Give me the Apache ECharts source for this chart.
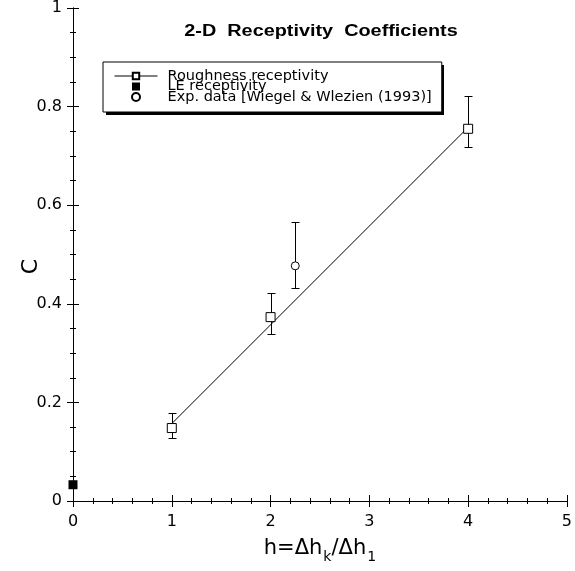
<!DOCTYPE html>
<html>
<head>
<meta charset="utf-8">
<script src="https://cdn.jsdelivr.net/npm/echarts@6/dist/echarts.min.js"></script>
<style>
  html, body { margin: 0; padding: 0; background: #fff; }
  #chart { width: 575px; height: 571px; }
</style>
</head>
<body>
<div id="chart"></div>
<script>
// Roughness receptivity coefficients with measurement uncertainty
const roughH = [1, 2, 4];
const roughC = [0.148, 0.373, 0.755];
const roughLow = [0.127, 0.339, 0.719];
const roughHigh = [0.178, 0.422, 0.822];

// Straight-line fit through the roughness points
const fitH = [1, 4];
const fitC = [0.157, 0.758];

// Leading-edge receptivity
const leH = [0];
const leC = [0.033];

// Experimental data point (Wiegel & Wlezien, 1993)
const expH = [2.25];
const expC = [0.477];
const expLow = [0.432];
const expHigh = [0.565];

const FONT = 'DejaVu Sans';
const TITLE_FONT = 'Liberation Sans';

const pairs = (xs, ys) => xs.map((x, i) => [x, ys[i]]);
const errData = roughH.map((x, i) => [x, roughLow[i], roughHigh[i]])
  .concat(expH.map((x, i) => [x, expLow[i], expHigh[i]]));

const chart = echarts.init(document.getElementById('chart'), null, { renderer: 'canvas' });

const axisLine = { show: true, lineStyle: { color: '#000', width: 1 } };
const axisTick = { show: true, inside: true, length: 6, lineStyle: { color: '#000' } };
const minorX = { show: true, splitNumber: 5, length: 3, lineStyle: { color: '#000' } };
const minorY = { show: true, splitNumber: 4, length: 3, lineStyle: { color: '#000' } };

// legend frame geometry (box plus offset drop shadow)
const LEG = { left: 103, top: 62, width: 338, height: 50, shadow: 3 };

const option = {
  backgroundColor: '#fff',
  animation: false,
  grid: { left: 73, right: 4, top: 6, bottom: 70 },
  graphic: [
    {
      type: 'text',
      x: 321, y: 32,
      scaleX: 1.24,
      style: {
        text: '2-D  Receptivity  Coefficients',
        font: 'bold 16px "' + TITLE_FONT + '"',
        fill: '#000',
        textAlign: 'center',
        textVerticalAlign: 'middle'
      },
      z: 10
    },
    {
      type: 'rect',
      shape: {
        x: LEG.left + LEG.shadow, y: LEG.top + LEG.shadow,
        width: LEG.width, height: LEG.height
      },
      style: { fill: '#000' },
      z: 1
    }
  ],
  legend: {
    orient: 'vertical',
    left: LEG.left, top: LEG.top,
    padding: [6.5, 10, 7.5, 11],
    itemGap: -4.5,
    itemWidth: 43,
    itemHeight: 8,
    backgroundColor: '#fff',
    borderColor: '#000',
    borderWidth: 1,
    z: 6,
    lineStyle: { opacity: 1, color: '#000', width: 1 },
    textStyle: { fontFamily: FONT, fontSize: 14.5, color: '#000', padding: [0, 0, 0, 5] },
    data: [
      { name: 'Roughness receptivity' },
      { name: 'LE receptivity', icon: 'path://M0,0L10,0L10,10L0,10Z' },
      { name: 'Exp. data [Wiegel & Wlezien (1993)]' }
    ]
  },
  xAxis: [
    {
      type: 'value', position: 'bottom', min: 0, max: 5, interval: 1,
      axisLine: axisLine, axisTick: axisTick, minorTick: minorX,
      splitLine: { show: false },
      axisLabel: { color: '#000', fontFamily: FONT, fontSize: 16, margin: 13 },
      name: '{a|h=\u0394h}{s|k}{a|/\u0394h}{s|1}',
      nameLocation: 'middle',
      nameGap: 37,
      nameMoveOverlap: false,
      nameTextStyle: {
        rich: {
          a: { fontFamily: FONT, fontSize: 21, color: '#000', lineHeight: 24, verticalAlign: 'top' },
          s: { fontFamily: FONT, fontSize: 14, color: '#000', lineHeight: 14, padding: [12, 0, 0, 1], verticalAlign: 'top' }
        }
      }
    },
    {
      type: 'value', position: 'top', min: 0, max: 5, interval: 1,
      axisLine: axisLine, axisTick: axisTick, minorTick: minorX,
      splitLine: { show: false },
      axisLabel: { show: false }
    }
  ],
  yAxis: [
    {
      type: 'value', position: 'left', min: 0, max: 1, interval: 0.2,
      axisLine: axisLine, axisTick: axisTick, minorTick: minorY,
      splitLine: { show: false },
      axisLabel: { color: '#000', fontFamily: FONT, fontSize: 16, margin: 11 },
      name: 'C',
      nameLocation: 'middle',
      nameGap: 31,
      nameMoveOverlap: false,
      nameTextStyle: { fontFamily: FONT, fontSize: 22, color: '#000', padding: [0, 24, 0, 0] }
    },
    {
      type: 'value', position: 'right', min: 0, max: 1, interval: 0.2,
      axisLine: axisLine, axisTick: axisTick, minorTick: minorY,
      splitLine: { show: false },
      axisLabel: { show: false }
    }
  ],
  series: [
    {
      name: 'fit',
      type: 'line',
      data: pairs(fitH, fitC),
      showSymbol: false,
      symbol: 'none',
      silent: true,
      lineStyle: { color: '#000', width: 1 },
      z: 2
    },
    {
      name: 'error bars',
      type: 'custom',
      data: errData,
      silent: true,
      z: 3,
      renderItem: function (params, api) {
        const x = api.value(0);
        const pLo = api.coord([x, api.value(1)]);
        const pHi = api.coord([x, api.value(2)]);
        const cx = Math.round(pLo[0]) + 0.5;
        const yLo = Math.round(pLo[1]) + 0.5;
        const yHi = Math.round(pHi[1]) + 0.5;
        const w = 4;
        const st = { stroke: '#000', lineWidth: 1 };
        return {
          type: 'group',
          children: [
            { type: 'line', shape: { x1: cx, y1: yLo, x2: cx, y2: yHi }, style: st },
            { type: 'line', shape: { x1: cx - w, y1: yHi, x2: cx + w, y2: yHi }, style: st },
            { type: 'line', shape: { x1: cx - w, y1: yLo, x2: cx + w, y2: yLo }, style: st }
          ]
        };
      }
    },
    {
      name: 'Roughness receptivity',
      type: 'line',
      data: pairs(roughH, roughC),
      symbol: 'rect',
      symbolSize: 9,
      showSymbol: true,
      itemStyle: { color: '#fff', borderColor: '#000', borderWidth: 1 },
      lineStyle: { color: '#000', width: 1, opacity: 0 },
      z: 5
    },
    {
      name: 'LE receptivity',
      type: 'scatter',
      data: pairs(leH, leC),
      symbol: 'rect',
      symbolSize: 9,
      itemStyle: { color: '#000', borderColor: '#000', borderWidth: 0, opacity: 1 },
      clip: false,
      z: 5
    },
    {
      name: 'Exp. data [Wiegel & Wlezien (1993)]',
      type: 'scatter',
      data: pairs(expH, expC),
      symbol: 'circle',
      symbolSize: 8,
      itemStyle: { color: '#fff', borderColor: '#000', borderWidth: 1, opacity: 1 },
      z: 5
    }
  ]
};

chart.setOption(option);
</script>
</body>
</html>
